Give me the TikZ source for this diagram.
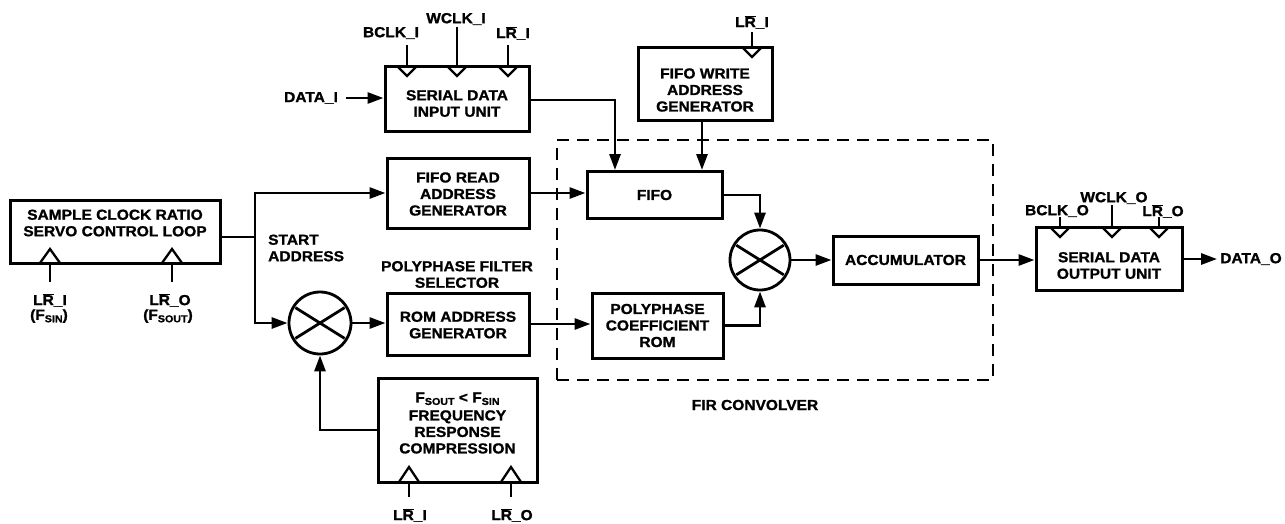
\documentclass[tikz,border=0pt]{standalone}
\usepackage{fontspec}
\setmainfont{Liberation Sans}[FakeStretch=1.07, BoldFeatures={FakeBold=1.2}]
\usetikzlibrary{arrows.meta,calc}
\newcommand\Rb{\ensuremath{\overline{\mbox{R}}}}
\newcommand\subx[1]{\raisebox{-2.5pt}{\fontsize{10}{10}\selectfont #1}}
\begin{document}
\begin{tikzpicture}[x=1pt,y=-1pt,
  blk/.style={draw, line width=3pt, inner sep=0pt},
  txt/.style={font=\bfseries\fontsize{14.5}{16.5}\selectfont, align=center, inner sep=0pt},
  arr/.style={line width=2.8pt, -{Triangle[length=16pt,width=11pt]}},
  ln/.style={line width=2.8pt},
  clk/.style={line width=2.3pt, line join=miter},
  mul/.style={draw, circle, line width=2.8pt, minimum size=#1, inner sep=0pt},
  firbox/.style={draw, line width=2.7pt, dash pattern=on 12pt off 8pt, inner sep=0pt}
]
\useasboundingbox (0,0) rectangle (1285,523);

% ---------- blocks ----------
\node[blk, minimum width=210, minimum height=63] (servo) at (115,231.5) {};
\node[txt] at (115,223) {SAMPLE CLOCK RATIO\\SERVO CONTROL LOOP};

\node[blk, minimum width=144, minimum height=65] (sdin) at (457,98.5) {};
\node[txt] at (457,103.5) {SERIAL DATA\\INPUT UNIT};

\node[blk, minimum width=134, minimum height=73] (fwag) at (705,83.5) {};
\node[txt] at (705,90) {FIFO WRITE\\ADDRESS\\GENERATOR};

\node[blk, minimum width=142, minimum height=70] (frag) at (458,193) {};
\node[txt] at (458,194) {FIFO READ\\ADDRESS\\GENERATOR};

\node[blk, minimum width=142, minimum height=62] (romag) at (458,324) {};
\node[txt] at (458,325) {ROM ADDRESS\\GENERATOR};

\node[blk, minimum width=159, minimum height=104] (frc) at (457.5,430) {};
\node[txt] at (457.5,423) {F\subx{SOUT} < F\subx{SIN}\\[1.5pt]FREQUENCY\\RESPONSE\\COMPRESSION};

\node[firbox, minimum width=436, minimum height=240] (fir) at (775,260) {};
\node[txt] (firlab) at (755,405) {FIR CONVOLVER};

\node[blk, minimum width=135, minimum height=47] (fifo) at (654.5,195) {};
\node[txt] at (654.5,195) {FIFO};

\node[blk, minimum width=131, minimum height=65] (pcrom) at (657.5,325.5) {};
\node[txt] at (657.5,325.5) {POLYPHASE\\COEFFICIENT\\ROM};

\node[blk, minimum width=145, minimum height=48] (acc) at (905.5,260) {};
\node[txt] at (905.5,260) {ACCUMULATOR};

\node[blk, minimum width=146, minimum height=63] (sdout) at (1109,258.5) {};
\node[txt] at (1109,265.5) {SERIAL DATA\\OUTPUT UNIT};

\node[mul=62] (m1) at (320,323) {};
\node[mul=60] (m2) at (760,260) {};
\foreach \m/\r in {m1/29,m2/28}{
  \draw[ln] ($(\m)+(148:\r)$) -- ($(\m)+(-32:\r)$);
  \draw[ln] ($(\m)+(32:\r)$) -- ($(\m)+(-148:\r)$);
}

% ---------- free labels ----------
\node[txt] (datai) at (311,98) {DATA\_I};
\node[txt] (datao) at (1251,259) {DATA\_O};
\node[txt, align=left, anchor=west] (start) at (268,248) {START\\ADDRESS};
\node[txt] (polysel) at (457,274.5) {POLYPHASE FILTER\\SELECTOR};

\node[txt] (bclki) at (391,33) {BCLK\_I};
\node[txt] (wclki) at (456,19) {WCLK\_I};
\node[txt] (lri) at (513,33) {L\Rb\_I};
\node[txt] (lrw) at (752,22) {L\Rb\_I};
\node[txt] (bclko) at (1057,211) {BCLK\_O};
\node[txt] (wclko) at (1114,198) {WCLK\_O};
\node[txt] (lro) at (1163,211) {L\Rb\_O};

\node[txt] (slri) at (50,300) {L\Rb\_I};
\node[txt] (sfsin) at (49,316) {(F\subx{SIN})};
\node[txt] (slro) at (170,300) {L\Rb\_O};
\node[txt] (sfsout) at (168,316) {(F\subx{SOUT})};
\node[txt] (clri) at (410,515) {L\Rb\_I};
\node[txt] (clro) at (512,515) {L\Rb\_O};

% ---------- clock inputs ----------
\foreach \x/\t in {407/45,457/27,508/45}{
  \draw[ln] (\x,\t) -- (\x,66);
  \draw[clk] (\x-10,66) -- (\x,76) -- (\x+10,66);
}
\draw[ln] (752,32) -- (752,47);
\draw[clk] (742,47) -- (752,57) -- (762,47);
\foreach \x/\t in {1060/217,1112/205,1159/217}{
  \draw[ln] (\x,\t) -- (\x,227);
  \draw[clk] (\x-10,227) -- (\x,237) -- (\x+10,227);
}
\foreach \x in {50,172}{
  \draw[ln] (\x,263) -- (\x,282);
  \draw[clk] (\x-10,263) -- (\x,249) -- (\x+10,263);
}
\foreach \x in {409,511}{
  \draw[ln] (\x,482) -- (\x,497);
  \draw[clk] (\x-10,482) -- (\x,467) -- (\x+10,482);
}

% ---------- connectors ----------
\draw[arr] ([xshift=8pt]datai.east) -- (datai.east -| sdin.west);
\draw[arr] (sdin.east |- 0,100) -| (615,0 |- fifo.north);
\draw[arr] (fwag.south -| 702,0) -- (702,0 |- fifo.north);
\coordinate (split) at (255,237);
\draw[ln] (servo.east |- split) -- (split);
\draw[arr] (split) |- (frag.west);
\draw[arr] (split) |- (m1.west);
\draw[arr] (frag.east) -- (frag.east -| fifo.west);
\draw[arr] (m1.east) -- (m1.east -| romag.west);
\draw[arr] (romag.east) -- (romag.east -| pcrom.west);
\draw[arr] (fifo.east) -| (m2.north);
\draw[arr] (pcrom.east) -| (m2.south);
\draw[arr] (m2.east) -- (acc.west);
\draw[arr] (acc.east) -- (acc.east -| sdout.west);
\draw[arr] (sdout.east |- datao) -- ([xshift=-3pt]datao.west);
\draw[arr] (frc.west) -| (m1.south);
\end{tikzpicture}
\end{document}
